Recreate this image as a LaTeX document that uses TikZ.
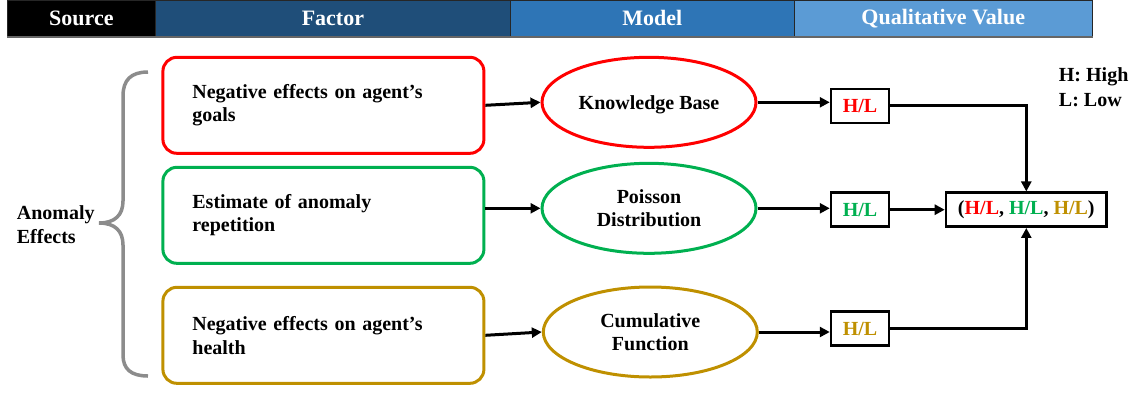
\documentclass[tikz,border=0pt]{standalone}
\usepackage{fontspec}
\setmainfont{Liberation Serif}
\usetikzlibrary{arrows.meta,shapes.geometric}
\definecolor{cred}{HTML}{FF0000}
\definecolor{cgreen}{HTML}{00B050}
\definecolor{cgold}{HTML}{BF9000}
\definecolor{cgray}{HTML}{8C8C8C}
\definecolor{hdA}{HTML}{1F4E79}
\definecolor{hdB}{HTML}{2E75B6}
\definecolor{hdC}{HTML}{5B9BD5}
\begin{document}
\begin{tikzpicture}[x=1pt,y=-1pt,
  hdr/.style={draw=black!85,line width=0.8pt,minimum height=36pt,inner sep=0pt,text=white,
    font=\fontsize{22}{24}\selectfont\bfseries,anchor=north west},
  factorbox/.style={draw,line width=3pt,rounded corners=14pt,minimum width=321pt,minimum height=96pt,
    text width=262pt,align=left,inner xsep=29pt,font=\fontsize{20}{23.5}\selectfont\bfseries},
  modelell/.style={ellipse,draw,line width=3pt,minimum width=214pt,minimum height=90pt,inner sep=0pt,
    text depth=0pt,align=center,font=\fontsize{20}{23.5}\selectfont\bfseries},
  hlbox/.style={draw=black,line width=2.5pt,minimum width=58pt,minimum height=34pt,inner sep=0pt,
    font=\fontsize{20}{23}\selectfont\bfseries},
  arr/.style={line width=3pt,-{Triangle[length=10pt,width=10pt]}},
  txt/.style={font=\fontsize{20}{24.5}\selectfont\bfseries,align=left,inner sep=0pt,anchor=west}
]
\useasboundingbox (0,0) rectangle (1137,392);
% header
\node[hdr,fill=black,minimum width=148pt] (hsrc) at (7,0) {Source};
\node[hdr,fill=hdA,minimum width=355pt] (hfac) at (155,0) {Factor};
\node[hdr,fill=hdB,minimum width=284pt] (hmod) at (510,0) {Model};
\node[hdr,fill=hdC,minimum width=297.7pt] (hqual) at (794,0) {Qualitative Value};
\draw[black!60,line width=1.5pt] (hsrc.south west) -- (hqual.south east);

% brace
\draw[cgray,line width=3.5pt] (148,72) .. controls (131,72) and (123,80) .. (123,96)
  -- (123,201) .. controls (123,215) and (115,223) .. (99,223)
  .. controls (115,223) and (123,231) .. (123,245)
  -- (123,355) .. controls (123,369) and (131,376) .. (148,376);
\node[txt] (anom) at (16.7,224.7) {Anomaly\\Effects};

% factor boxes
\node[factorbox,draw=cred] (f1) at (323.4,105.3) {Negative effects on agent’s\\goals};
\node[factorbox,draw=cgreen] (f2) at (323.4,215.3) {Estimate of anomaly\\repetition};
\node[factorbox,draw=cgold] (f3) at (323.4,335.3) {Negative effects on agent’s\\health};

% models
\node[modelell,draw=cred] (m1) at (649,102.3) {Knowledge Base};
\node[modelell,draw=cgreen] (m2) at (649,208.3) {Poisson\\Distribution};
\node[modelell,draw=cgold] (m3) at (650.3,332) {Cumulative\\Function};

% H/L boxes
\node[hlbox,text=cred] (q1) at (860,105.8) {H/L};
\node[hlbox,text=cgreen] (q2) at (860,209.7) {H/L};
\node[hlbox,text=cgold] (q3) at (860,328.7) {H/L};
\node[hlbox,minimum width=160.7pt] (res) at (1026.3,209.7)
  {(\textcolor{cred}{H/L}, \textcolor{cgreen}{H/L}, \textcolor{cgold}{H/L})};

% legend
\node[txt,font=\fontsize{20}{25}\selectfont\bfseries] (leg) at (1058.7,86.8) {H: High\\L: Low};

% connectors
\draw[arr] (f1.east) -- (m1.west);
\draw[arr] (m2.west -| f2.east) -- (m2.west);
\draw[arr] (f3.east) -- (m3.west);
\draw[arr] (m1.east) -- (m1.east -| q1.west);
\draw[arr] (m2.east) -- (m2.east -| q2.west);
\draw[arr] (m3.east) -- (m3.east -| q3.west);
\draw[arr] (q1.east) -| (res.north);
\draw[arr] (q2.east) -- (res.west);
\draw[arr] (q3.east) -| (res.south);
\end{tikzpicture}
\end{document}
